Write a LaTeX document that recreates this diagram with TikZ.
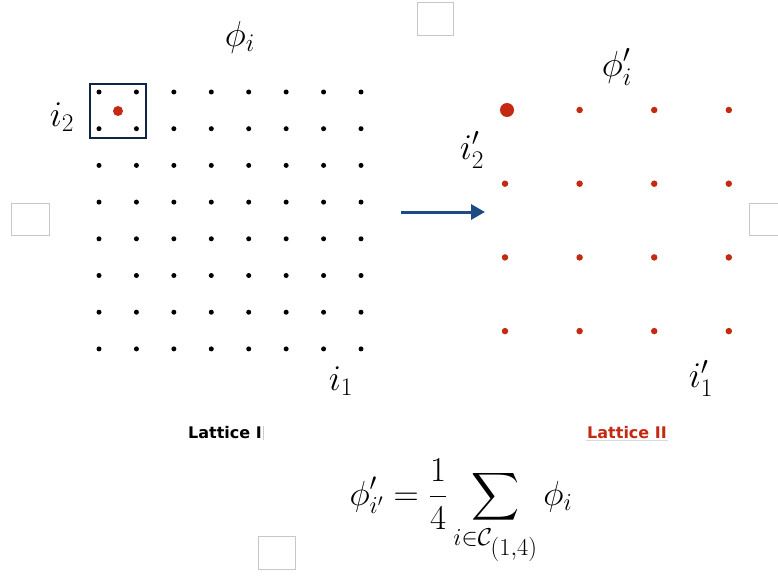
\documentclass[tikz,border=0pt]{standalone}
\usepackage{fix-cm}
\usepackage{amsmath}
\usepackage{fontspec}
\newfontfamily\labfont{DejaVu Sans}
\usetikzlibrary{arrows.meta}
\definecolor{dred}{RGB}{196,42,18}
\definecolor{navy}{RGB}{16,36,72}
\definecolor{arrblue}{RGB}{28,74,130}
\newcommand{\mymathscale}[1]{\scalebox{1.34}{#1}}
\tikzset{
  x=1pt,y=-1pt,
  bdot/.style={circle,fill=black,inner sep=0pt,minimum size=5pt},
  rdot/.style={circle,fill=dred,inner sep=0pt,minimum size=6.5pt},
  bigrdot/.style={circle,fill=dred,inner sep=0pt,minimum size=14pt},
  mlab/.style={inner sep=0pt,font=\fontsize{27}{32}\selectfont},
  lattlab/.style={inner sep=1pt,font=\labfont\bfseries\fontsize{16}{19}\selectfont},
  ghost/.style={draw=black!22,line width=1pt,fill=white},
}
\begin{document}
\begin{tikzpicture}
\useasboundingbox (0,0) rectangle (778,575);
% ghost boxes
\draw[ghost] (417,3) rectangle (453,36);
\draw[ghost] (11,203) rectangle (49,235);
\draw[ghost] (749,203) rectangle (790,235);
\draw[ghost] (258,536) rectangle (295,569);
% lattice I
\foreach \i in {0,...,7}{
  \foreach \j in {0,...,7}{
    \node[bdot] (b-\i-\j) at ({99+37.43*\i},{92+36.7*\j}) {};
  }
}
\node[draw=navy,line width=2.5pt,minimum width=56pt,minimum height=54pt,inner sep=0pt] (blk) at (118,111) {};
\node[rdot,minimum size=10pt] (c) at (118,111) {};
% lattice II
\foreach \i in {0,...,3}{
  \foreach \j in {0,...,3}{
    \ifnum\i\j=00\relax\else
    \node[rdot] (r-\i-\j) at ({505+74.6*\i},{110+73.7*\j}) {};
    \fi
  }
}
\node[bigrdot] (r-0-0) at (507,110) {};
% arrow
\coordinate (as) at (401,212);
\coordinate (ae) at (485,212);
\draw[arrblue,line width=3pt,-{Triangle[length=14pt,width=15pt]}] (as) -- (ae);
% math labels
\node[mlab] (phi) at (240,37) {\mymathscale{$\phi_i$}};
\node[mlab] (i2) at (62,117) {\mymathscale{$i_2$}};
\node[mlab] (i1) at (341,381) {\mymathscale{$i_1$}};
\node[mlab] (phip) at (617,67) {\mymathscale{$\phi'_i$}};
\node[mlab] (i2p) at (472,150) {\mymathscale{$i'_2$}};
\node[mlab] (i1p) at (701,378) {\mymathscale{$i'_1$}};
% lattice labels
\node[lattlab] (l1) at (225,433) {Lattice I};
\draw[black!20,line width=0.8pt] (l1.north east) -- (l1.south east);
\node[lattlab,text=dred] (l2) at (627,433) {Lattice II};
\draw[black!15,line width=0.8pt] (l2.south west) -- (l2.south east);
% formula
\node[inner sep=0pt,font=\fontsize{26}{31}\selectfont] (f) at (461,512) {\mymathscale{$\displaystyle \phi'_{i'} = \frac{1}{4}\sum_{i\in\mathcal{C}_{\scriptstyle(1,4)}} \phi_i$}};
\end{tikzpicture}
\end{document}
